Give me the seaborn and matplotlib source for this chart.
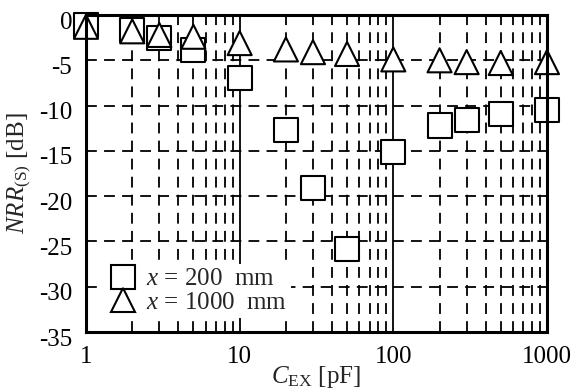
import matplotlib
matplotlib.use("Agg")
import matplotlib.pyplot as plt
import matplotlib.ticker as mticker
import matplotlib.transforms as mtransforms
import seaborn as sns
import pandas as pd
import numpy as np

sns.set_style("white")
plt.rcParams['font.family'] = ['Liberation Serif', 'DejaVu Serif']
plt.rcParams['mathtext.fontset'] = 'custom'
plt.rcParams['mathtext.rm'] = 'Liberation Serif'
plt.rcParams['mathtext.it'] = 'Liberation Serif:italic'

c_ex = [1, 2, 3, 5, 10, 20, 30, 50, 100, 200, 300, 500, 1000]
nrr_200 = [-1.1, -1.7, -2.5, -3.9, -7.0, -12.7, -19.1, -25.8, -15.1, -12.2, -11.6, -10.9, -10.5]
nrr_1000 = [-1.3, -1.8, -2.2, -2.4, -3.1, -3.8, -4.1, -4.3, -4.9, -5.0, -5.2, -5.3, -5.2]
labels = [r'$x$ = 200  mm', r'$x$ = 1000  mm']

df = pd.DataFrame({'C': c_ex * 2,
                   'NRR': nrr_200 + nrr_1000,
                   'series': [labels[0]] * len(c_ex) + [labels[1]] * len(c_ex)})

fig = plt.figure(figsize=(5.79, 3.92), dpi=100)
ax = fig.add_axes([0.1485, 0.153, 0.7962, 0.8087])

MS = 300
FS = 18
sns.scatterplot(data=df, x='C', y='NRR', style='series', markers=['s', '^'],
                hue='series', palette=['white', 'white'], s=MS, edgecolor='black',
                linewidth=1.5, ax=ax, zorder=5, clip_on=False)

ax.set_xscale('log')
ax.set_xlim(1, 1000)
ax.set_ylim(-35, 0)
ax.set_yticks(np.arange(-35, 1, 5))
ax.set_yticklabels([str(v) for v in range(-35, 1, 5)])
ax.xaxis.set_major_locator(mticker.FixedLocator([1, 10, 100, 1000]))
ax.xaxis.set_major_formatter(mticker.FixedFormatter(['1', '10', '100', '1000']))
ax.xaxis.set_minor_locator(mticker.LogLocator(base=10, subs=np.arange(2, 10)))
ax.xaxis.set_minor_formatter(mticker.NullFormatter())

ax.grid(False)
for v in [10, 100]:
    ax.axvline(v, color='black', lw=1.3, zorder=1)
for v in ax.xaxis.get_minorticklocs():
    if 1 < v < 1000:
        ax.axvline(v, color='black', lw=1.3, ls=(0, (6, 4)), zorder=1)
for v in range(-30, 0, 5):
    ax.axhline(v, color='black', lw=1.3, ls=(0, (6, 4)), zorder=1)

for s in ax.spines.values():
    s.set_linewidth(2.2)
    s.set_color('black')
    s.set_zorder(6)

ax.tick_params(axis='both', which='both', direction='in', labelsize=FS,
               colors='black', width=1.3)
ax.tick_params(axis='x', which='major', length=0, pad=10)
ax.tick_params(axis='x', which='minor', length=6)
ax.tick_params(axis='y', which='major', length=7, pad=10)

offset = mtransforms.ScaledTranslation(0, -0.05, fig.dpi_scale_trans)
for lbl in ax.get_yticklabels():
    lbl.set_transform(lbl.get_transform() + offset)

ax.set_xlabel(r'$C_{\rm EX}$ [pF]', fontsize=FS, labelpad=-3)
ax.set_ylabel(r'$\mathit{NRR}_{\rm (S)}$ [dB]', fontsize=FS, labelpad=4)

handles, lbls = ax.get_legend_handles_labels()
for h in handles:
    h.set_markersize(np.sqrt(MS))
    h.set_markerfacecolor('white')
    h.set_markeredgecolor('black')
    h.set_markeredgewidth(1.5)
leg = ax.legend(handles=handles, labels=lbls, loc='lower left',
                bbox_to_anchor=(0.013, 0.005), frameon=True, fontsize=FS,
                handletextpad=0.3, labelspacing=0.05, borderpad=0.15,
                handlelength=1.2)
leg.get_frame().set_edgecolor('none')
leg.get_frame().set_facecolor('white')
leg.get_frame().set_alpha(1)
leg.set_zorder(4)

fig.savefig('out.png', dpi=100)
